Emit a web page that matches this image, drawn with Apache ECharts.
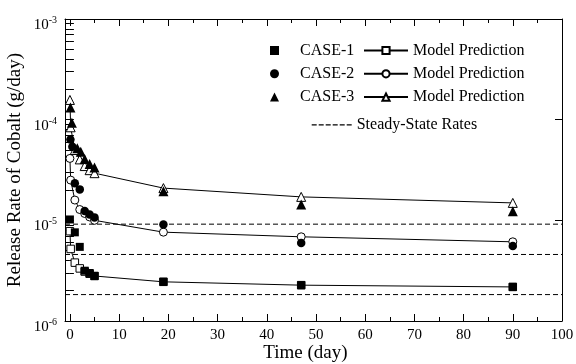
<!DOCTYPE html>
<html><head><meta charset="utf-8">
<script src="https://cdn.jsdelivr.net/npm/echarts@6/dist/echarts.min.js"></script>
<style>html,body{margin:0;padding:0;background:#fff}#c{width:576px;height:364px}</style>
</head><body><div id="c"></div>
<script>
// ---- data ----
const seriesNames = ['CASE-1', 'CASE-2', 'CASE-3'];
const modelName = 'Model Prediction';
const steadyName = 'Steady-State Rates';

const case1ExpTimes  = [0, 1, 2, 3, 4, 5, 19, 47, 90];
const case1ExpValues = [1.02e-5, 7.6e-6, 5.45e-6, 3.16e-6, 3.0e-6, 2.8e-6, 2.45e-6, 2.27e-6, 2.18e-6];

const case2ExpTimes  = [0.1, 0.5, 1, 2, 3, 4, 5, 19, 47, 90];
const case2ExpValues = [6.37e-5, 5.38e-5, 2.33e-5, 2.03e-5, 1.24e-5, 1.14e-5, 1.07e-5, 9.1e-6, 5.97e-6, 5.55e-6];

const case3ExpTimes  = [0.1, 0.4, 1.5, 2.2, 3, 4, 5, 19, 47, 90];
const case3ExpValues = [1.32e-4, 9.3e-5, 5.2e-5, 4.8e-5, 4.06e-5, 3.62e-5, 3.34e-5, 1.95e-5, 1.44e-5, 1.23e-5];

const modelTimes = [0, 0.15, 1, 2, 3, 4, 5, 19, 47, 90];
const case1ModelValues = [7.8e-6, 5.2e-6, 3.8e-6, 3.33e-6, 3.1e-6, 2.95e-6, 2.8e-6, 2.45e-6, 2.27e-6, 2.18e-6];
const case2ModelValues = [4.12e-5, 2.51e-5, 1.59e-5, 1.28e-5, 1.17e-5, 1.08e-5, 1.0e-5, 7.63e-6, 6.86e-6, 6.12e-6];
const case3ModelValues = [1.57e-4, 8.4e-5, 5.0e-5, 4.03e-5, 3.46e-5, 3.15e-5, 2.94e-5, 2.09e-5, 1.71e-5, 1.49e-5];

const steadyValues = [9.16e-6, 4.58e-6, 1.83e-6];

const xTickLabels = [0, 10, 20, 30, 40, 50, 60, 70, 80, 90, 100];
const xMinorTicks = [5, 15, 25, 35, 45, 55, 65, 75, 85, 95];
const xMin = -1, xMax = 100;
const yMin = 1e-6, yMax = 1e-3;
const yMinorMultipliers = [1, 2, 3, 4, 5, 6, 7, 8, 9];

// ---- helpers ----
const zip = (t, v) => t.map((x, i) => [x, v[i]]);
const FONT = "'Liberation Serif', 'Times New Roman', serif";
const BLACK = '#000';
const logMin = Math.round(Math.log10(yMin)), logMax = Math.round(Math.log10(yMax));
const yMinorLog = [];
for (let d = logMin; d < logMax; d++) yMinorMultipliers.forEach(m => yMinorLog.push(Math.log10(m) + d));

const expSymbols = ['rect', 'circle', 'triangle'];
const expSizes = [8, 8.5, 10];
const modelSymbols = ['rect', 'circle', 'triangle'];
const modelSizes = [7.5, 8, 9];
const expData = [zip(case1ExpTimes, case1ExpValues), zip(case2ExpTimes, case2ExpValues), zip(case3ExpTimes, case3ExpValues)];
const modelData = [zip(modelTimes, case1ModelValues), zip(modelTimes, case2ModelValues), zip(modelTimes, case3ModelValues)];

const dashStyle = { color: BLACK, width: 1, type: [5, 3] };
const openStyle = { color: '#fff', borderColor: BLACK, borderWidth: 1, opacity: 1 };
const series = [];
// steady-state rates: horizontal dashed lines spanning the whole x range
steadyValues.forEach(v => series.push({
  type: 'line', name: steadyName, data: [[xMin, v], [xMax, v]], symbol: 'none', showSymbol: false,
  lineStyle: dashStyle, itemStyle: { color: BLACK }, silent: true, z: 1
}));
// model prediction: line + open markers
modelData.forEach((d, i) => {
  series.push({
    type: 'line', name: 'M' + (i + 1), data: d, symbol: modelSymbols[i], showSymbol: false,
    lineStyle: { color: BLACK, width: 1 }, itemStyle: openStyle, silent: true, z: 2
  });
  series.push({
    type: 'scatter', name: 'M' + (i + 1) + ' markers', data: d, symbol: modelSymbols[i], symbolSize: modelSizes[i],
    itemStyle: openStyle, z: 3
  });
});
expData.forEach((d, i) => series.push({
  type: 'scatter', name: seriesNames[i], data: d, symbol: expSymbols[i], symbolSize: expSizes[i],
  itemStyle: { color: BLACK, opacity: 1 }, z: 4
}));

const xCommon = { type: 'value', min: xMin, max: xMax, splitLine: { show: false } };
const yLogCommon = { type: 'log', min: yMin, max: yMax, splitLine: { show: false }, minorTick: { show: false } };
const yMinorCommon = { type: 'value', min: logMin, max: logMax, splitLine: { show: false },
  axisLine: { show: false }, axisLabel: { show: false },
  axisTick: { show: true, inside: true, length: 4, customValues: yMinorLog, lineStyle: { color: BLACK } } };

const legendText = { fontFamily: FONT, fontSize: 16, color: BLACK, lineHeight: 16 };
const dashIcon = 'path://M0,0h5v1.2h-5z M7,0h5v1.2h-5z M14,0h5v1.2h-5z M21,0h5v1.2h-5z M28,0h5v1.2h-5z M35,0h5v1.2h-5z';

const option = {
  backgroundColor: '#fff',
  animation: false,
  grid: { left: 65, right: 14, top: 19, bottom: 43, containLabel: false, outerBoundsMode: 'none' },
  xAxis: [
    Object.assign({}, xCommon, {
      position: 'bottom',
      axisLine: { show: true, onZero: false, lineStyle: { color: BLACK, width: 1 } },
      axisTick: { show: true, inside: true, length: 7, customValues: xTickLabels, lineStyle: { color: BLACK } },
      axisLabel: { customValues: xTickLabels, margin: 7, fontFamily: FONT, fontSize: 15, color: BLACK },
      name: 'Time (day)', nameLocation: 'middle', nameGap: 23, nameMoveOverlap: false,
      nameTextStyle: { fontFamily: FONT, fontSize: 19, color: BLACK, padding: [0, 16, 0, 0] }
    }),
    Object.assign({}, xCommon, {
      position: 'bottom', axisLine: { show: false, onZero: false }, axisLabel: { show: false },
      axisTick: { show: true, inside: true, length: 4, customValues: xMinorTicks, lineStyle: { color: BLACK } }
    }),
    Object.assign({}, xCommon, {
      position: 'top', axisLine: { show: true, onZero: false, lineStyle: { color: BLACK, width: 1 } }, axisLabel: { show: false },
      axisTick: { show: true, inside: true, length: 7, customValues: xTickLabels, lineStyle: { color: BLACK } }
    }),
    Object.assign({}, xCommon, {
      position: 'top', axisLine: { show: false, onZero: false }, axisLabel: { show: false },
      axisTick: { show: true, inside: true, length: 4, customValues: xMinorTicks, lineStyle: { color: BLACK } }
    })
  ],
  yAxis: [
    Object.assign({}, yLogCommon, {
      position: 'left',
      axisLine: { show: true, onZero: false, lineStyle: { color: BLACK, width: 1 } },
      axisTick: { show: true, inside: true, length: 7, lineStyle: { color: BLACK } },
      axisLabel: {
        margin: 8,
        formatter: v => '{b|10}{s|' + Math.round(Math.log10(v)) + '}',
        rich: {
          b: { fontFamily: FONT, fontSize: 15, color: BLACK, lineHeight: 15, verticalAlign: 'top', padding: [6, 0, 0, 0] },
          s: { fontFamily: FONT, fontSize: 10, color: BLACK, lineHeight: 10, verticalAlign: 'top', padding: [4, 0, 0, 0] }
        }
      },
      name: 'Release Rate of Cobalt (g/day)', nameLocation: 'middle', nameGap: 40, nameRotate: 90, nameMoveOverlap: false,
      nameTextStyle: { fontFamily: FONT, fontSize: 19, color: BLACK }
    }),
    Object.assign({}, yMinorCommon, { position: 'left' }),
    Object.assign({}, yLogCommon, {
      position: 'right',
      axisLine: { show: true, onZero: false, lineStyle: { color: BLACK, width: 1 } },
      axisTick: { show: true, inside: true, length: 7, lineStyle: { color: BLACK } },
      axisLabel: { show: false }
    }),
    Object.assign({}, yMinorCommon, { position: 'right' })
  ],
  legend: [
    { data: seriesNames, orient: 'vertical', left: 265, top: 37.5, itemWidth: 9, itemHeight: 9, itemGap: 7.3,
      selectedMode: false, textStyle: Object.assign({ padding: [0, 0, 0, 16] }, legendText) },
    { data: ['M1', 'M2', 'M3'], formatter: () => modelName, orient: 'vertical', left: 358, top: 37.5,
      itemWidth: 44, itemHeight: 9, itemGap: 7.3, selectedMode: false, textStyle: legendText },
    { data: [{ name: steadyName, icon: dashIcon }], orient: 'vertical', left: 306.7, top: 111.8,
      itemWidth: 40, itemHeight: 1.2, selectedMode: false, textStyle: legendText }
  ],
  series: series
};

const chart = echarts.init(document.getElementById('c'), null, { renderer: 'canvas' });
chart.setOption(option);
</script>
</body></html>
